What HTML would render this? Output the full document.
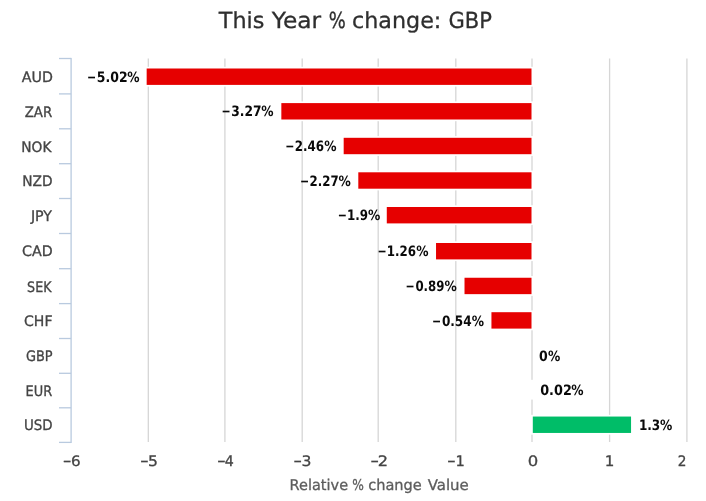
<!DOCTYPE html>
<html><head><meta charset="utf-8"><title>This Year % change: GBP</title>
<style>
html,body{margin:0;padding:0;background:#fff;overflow:hidden;}
svg{display:block;text-rendering:geometricPrecision;font-family:"DejaVu Sans","Liberation Sans",sans-serif;}
.t{font-size:22.2px;fill:#2e2e2e;stroke:#2e2e2e;stroke-width:.3px;}
.c{font-size:14.4px;fill:#444;stroke:#444;stroke-width:.32px;}
.x{font-size:14.4px;fill:#444;stroke:#444;stroke-width:.32px;}
.a{font-size:14.8px;fill:#5c5c5c;stroke:#5c5c5c;stroke-width:.3px;}
.d{font-size:14.3px;font-weight:bold;fill:#0a0a0a;}
</style></head><body>
<svg width="706" height="501" viewBox="0 0 706 501">
<rect width="706" height="501" fill="#fff"/>
<g>
<rect x="147.65" y="58.5" width="1.3" height="383.5" fill="#d6d6d6"/>
<rect x="224.25" y="58.5" width="1.3" height="383.5" fill="#d6d6d6"/>
<rect x="301.55" y="58.5" width="1.3" height="383.5" fill="#d6d6d6"/>
<rect x="377.55" y="58.5" width="1.3" height="383.5" fill="#d6d6d6"/>
<rect x="455.15" y="58.5" width="1.3" height="383.5" fill="#d6d6d6"/>
<rect x="531.35" y="58.5" width="1.3" height="383.5" fill="#d6d6d6"/>
<rect x="608.95" y="58.5" width="1.3" height="383.5" fill="#d6d6d6"/>
<rect x="686.25" y="58.5" width="1.3" height="383.5" fill="#d6d6d6"/>
</g>
<g>
<rect x="145.46" y="66.80" width="387.84" height="19.80" fill="#fff"/>
<rect x="146.66" y="68.50" width="384.84" height="16.4" fill="#e60000"/>
<rect x="280.14" y="101.40" width="253.16" height="19.80" fill="#fff"/>
<rect x="281.34" y="103.10" width="250.16" height="16.4" fill="#e60000"/>
<rect x="342.48" y="136.10" width="190.82" height="19.80" fill="#fff"/>
<rect x="343.68" y="137.80" width="187.82" height="16.4" fill="#e60000"/>
<rect x="357.10" y="170.60" width="176.20" height="19.80" fill="#fff"/>
<rect x="358.30" y="172.30" width="173.20" height="16.4" fill="#e60000"/>
<rect x="385.58" y="205.30" width="147.72" height="19.80" fill="#fff"/>
<rect x="386.78" y="207.00" width="144.72" height="16.4" fill="#e60000"/>
<rect x="434.83" y="241.30" width="98.47" height="19.80" fill="#fff"/>
<rect x="436.03" y="243.00" width="95.47" height="16.4" fill="#e60000"/>
<rect x="463.31" y="276.05" width="69.99" height="19.80" fill="#fff"/>
<rect x="464.51" y="277.75" width="66.99" height="16.4" fill="#e60000"/>
<rect x="490.24" y="310.50" width="43.06" height="19.80" fill="#fff"/>
<rect x="491.44" y="312.20" width="40.06" height="16.4" fill="#e60000"/>
<rect x="531.00" y="379.80" width="3.00" height="19.80" fill="#fff"/>
<rect x="531.00" y="414.85" width="101.25" height="19.80" fill="#fff"/>
<rect x="532.80" y="416.55" width="98.25" height="16.4" fill="#00bd68"/>
</g>
<g>
<rect x="70.45" y="57.9" width="1.3" height="385.1" fill="#b9cadf"/>
<rect x="59.0" y="57.85" width="12.1" height="1.3" fill="#b9cadf"/>
<rect x="59.0" y="93.25" width="12.1" height="1.3" fill="#b9cadf"/>
<rect x="59.0" y="128.15" width="12.1" height="1.3" fill="#b9cadf"/>
<rect x="59.0" y="163.05" width="12.1" height="1.3" fill="#b9cadf"/>
<rect x="59.0" y="197.85" width="12.1" height="1.3" fill="#b9cadf"/>
<rect x="59.0" y="232.85" width="12.1" height="1.3" fill="#b9cadf"/>
<rect x="59.0" y="268.05" width="12.1" height="1.3" fill="#b9cadf"/>
<rect x="59.0" y="302.95" width="12.1" height="1.3" fill="#b9cadf"/>
<rect x="59.0" y="337.85" width="12.1" height="1.3" fill="#b9cadf"/>
<rect x="59.0" y="372.65" width="12.1" height="1.3" fill="#b9cadf"/>
<rect x="59.0" y="407.15" width="12.1" height="1.3" fill="#b9cadf"/>
<rect x="59.0" y="441.75" width="12.1" height="1.3" fill="#b9cadf"/>
</g>
<text class="t" y="28.35"><tspan x="218.85" textLength="45.57" lengthAdjust="spacingAndGlyphs">This</tspan> <tspan x="271.76" textLength="49.38" lengthAdjust="spacingAndGlyphs">Year</tspan> <tspan x="328.76" textLength="17.03" lengthAdjust="spacingAndGlyphs">%</tspan> <tspan x="352.06" textLength="89.32" lengthAdjust="spacingAndGlyphs">change:</tspan> <tspan x="448.51" textLength="43.41" lengthAdjust="spacingAndGlyphs">GBP</tspan></text>
<text class="a" y="490.15"><tspan x="289.59" textLength="58.47" lengthAdjust="spacingAndGlyphs">Relative</tspan> <tspan x="352.13" textLength="11.61" lengthAdjust="spacingAndGlyphs">%</tspan> <tspan x="368.17" textLength="53.60" lengthAdjust="spacingAndGlyphs">change</tspan> <tspan x="427.70" textLength="41.14" lengthAdjust="spacingAndGlyphs">Value</tspan></text>
<text class="c" y="82.00"><tspan x="21.80" textLength="31.13" lengthAdjust="spacingAndGlyphs">AUD</tspan></text>
<text class="c" y="116.90"><tspan x="24.68" textLength="27.52" lengthAdjust="spacingAndGlyphs">ZAR</tspan></text>
<text class="c" y="151.60"><tspan x="21.31" textLength="30.15" lengthAdjust="spacingAndGlyphs">NOK</tspan></text>
<text class="c" y="186.20"><tspan x="22.26" textLength="30.35" lengthAdjust="spacingAndGlyphs">NZD</tspan></text>
<text class="c" y="220.60"><tspan x="30.89" textLength="21.11" lengthAdjust="spacingAndGlyphs">JPY</tspan></text>
<text class="c" y="255.50"><tspan x="21.93" textLength="30.70" lengthAdjust="spacingAndGlyphs">CAD</tspan></text>
<text class="c" y="291.60"><tspan x="27.11" textLength="24.39" lengthAdjust="spacingAndGlyphs">SEK</tspan></text>
<text class="c" y="326.40"><tspan x="24.04" textLength="28.48" lengthAdjust="spacingAndGlyphs">CHF</tspan></text>
<text class="c" y="360.90"><tspan x="25.90" textLength="26.63" lengthAdjust="spacingAndGlyphs">GBP</tspan></text>
<text class="c" y="395.50"><tspan x="25.59" textLength="26.61" lengthAdjust="spacingAndGlyphs">EUR</tspan></text>
<text class="c" y="430.20"><tspan x="23.90" textLength="28.69" lengthAdjust="spacingAndGlyphs">USD</tspan></text>
<text class="x" y="466.40"><tspan x="62.86" textLength="8.83" lengthAdjust="spacingAndGlyphs">−</tspan><tspan x="71.05" textLength="9.62" lengthAdjust="spacingAndGlyphs">6</tspan></text>
<text class="x" y="466.40"><tspan x="140.06" textLength="8.83" lengthAdjust="spacingAndGlyphs">−</tspan><tspan x="147.92" textLength="9.93" lengthAdjust="spacingAndGlyphs">5</tspan></text>
<text class="x" y="466.40"><tspan x="216.91" textLength="8.83" lengthAdjust="spacingAndGlyphs">−</tspan><tspan x="224.83" textLength="9.07" lengthAdjust="spacingAndGlyphs">4</tspan></text>
<text class="x" y="466.40"><tspan x="293.36" textLength="8.83" lengthAdjust="spacingAndGlyphs">−</tspan><tspan x="301.42" textLength="9.93" lengthAdjust="spacingAndGlyphs">3</tspan></text>
<text class="x" y="466.40"><tspan x="370.36" textLength="8.83" lengthAdjust="spacingAndGlyphs">−</tspan><tspan x="377.84" textLength="10.25" lengthAdjust="spacingAndGlyphs">2</tspan></text>
<text class="x" y="466.40"><tspan x="447.01" textLength="8.83" lengthAdjust="spacingAndGlyphs">−</tspan><tspan x="455.50" textLength="9.31" lengthAdjust="spacingAndGlyphs">1</tspan></text>
<text class="x" y="466.40"><tspan x="527.67" textLength="10.49" lengthAdjust="spacingAndGlyphs">0</tspan></text>
<text class="x" y="466.40"><tspan x="604.85" textLength="9.60" lengthAdjust="spacingAndGlyphs">1</tspan></text>
<text class="x" y="466.40"><tspan x="677.75" textLength="8.67" lengthAdjust="spacingAndGlyphs">2</tspan></text>
<text class="d" y="81.90"><tspan x="87.08" textLength="9.16" lengthAdjust="spacingAndGlyphs">−</tspan><tspan x="96.87" textLength="30.81" lengthAdjust="spacingAndGlyphs">5.02</tspan><tspan x="127.22" textLength="12.30" lengthAdjust="spacingAndGlyphs">%</tspan></text>
<text class="d" y="116.20"><tspan x="221.48" textLength="9.16" lengthAdjust="spacingAndGlyphs">−</tspan><tspan x="231.28" textLength="30.29" lengthAdjust="spacingAndGlyphs">3.27</tspan><tspan x="261.32" textLength="12.30" lengthAdjust="spacingAndGlyphs">%</tspan></text>
<text class="d" y="151.00"><tspan x="285.18" textLength="9.16" lengthAdjust="spacingAndGlyphs">−</tspan><tspan x="294.82" textLength="29.24" lengthAdjust="spacingAndGlyphs">2.46</tspan><tspan x="324.22" textLength="12.30" lengthAdjust="spacingAndGlyphs">%</tspan></text>
<text class="d" y="185.60"><tspan x="299.88" textLength="9.16" lengthAdjust="spacingAndGlyphs">−</tspan><tspan x="309.53" textLength="29.11" lengthAdjust="spacingAndGlyphs">2.27</tspan><tspan x="338.42" textLength="12.30" lengthAdjust="spacingAndGlyphs">%</tspan></text>
<text class="d" y="220.10"><tspan x="337.78" textLength="9.16" lengthAdjust="spacingAndGlyphs">−</tspan><tspan x="347.05" textLength="21.11" lengthAdjust="spacingAndGlyphs">1.9</tspan><tspan x="368.12" textLength="12.30" lengthAdjust="spacingAndGlyphs">%</tspan></text>
<text class="d" y="256.00"><tspan x="377.58" textLength="9.16" lengthAdjust="spacingAndGlyphs">−</tspan><tspan x="386.85" textLength="29.21" lengthAdjust="spacingAndGlyphs">1.26</tspan><tspan x="416.22" textLength="12.30" lengthAdjust="spacingAndGlyphs">%</tspan></text>
<text class="d" y="290.60"><tspan x="405.38" textLength="9.16" lengthAdjust="spacingAndGlyphs">−</tspan><tspan x="415.40" textLength="29.05" lengthAdjust="spacingAndGlyphs">0.89</tspan><tspan x="444.42" textLength="12.30" lengthAdjust="spacingAndGlyphs">%</tspan></text>
<text class="d" y="325.60"><tspan x="431.88" textLength="9.16" lengthAdjust="spacingAndGlyphs">−</tspan><tspan x="441.88" textLength="29.79" lengthAdjust="spacingAndGlyphs">0.54</tspan><tspan x="471.82" textLength="12.30" lengthAdjust="spacingAndGlyphs">%</tspan></text>
<text class="d" y="360.55"><tspan x="539.06" textLength="8.73" lengthAdjust="spacingAndGlyphs">0</tspan><tspan x="547.92" textLength="12.30" lengthAdjust="spacingAndGlyphs">%</tspan></text>
<text class="d" y="395.30"><tspan x="540.20" textLength="31.61" lengthAdjust="spacingAndGlyphs">0.02</tspan><tspan x="571.32" textLength="12.30" lengthAdjust="spacingAndGlyphs">%</tspan></text>
<text class="d" y="430.00"><tspan x="638.88" textLength="21.37" lengthAdjust="spacingAndGlyphs">1.3</tspan><tspan x="660.02" textLength="12.30" lengthAdjust="spacingAndGlyphs">%</tspan></text>
</svg></body></html>
